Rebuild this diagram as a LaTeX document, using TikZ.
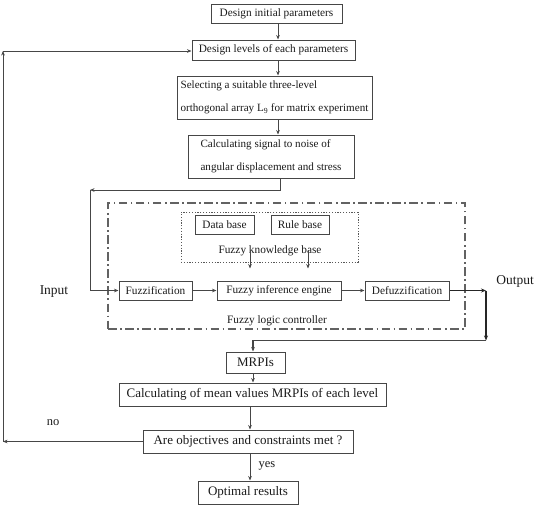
\documentclass[tikz,border=0pt]{standalone}
\usepackage{fontspec}
\setmainfont{Liberation Serif}
\usetikzlibrary{arrows.meta,calc}
\definecolor{linegray}{HTML}{464646}
\definecolor{textdark}{HTML}{1A1A1A}
\begin{document}
\begin{tikzpicture}[x=1pt,y=-1pt,
  box/.style={draw=linegray,line width=1pt,inner sep=0pt,text=textdark,
    font=\fontsize{11.3}{13}\selectfont},
  twoline/.style={box,align=left,font=\fontsize{11.1}{22.5}\selectfont},
  bigbox/.style={box,font=\fontsize{13}{15}\selectfont},
  lbl/.style={text=textdark,inner sep=0pt},
  arr/.style={draw=linegray,line width=1pt,-{Stealth[length=4.5pt,width=3.6pt]}},
  arrthick/.style={draw=black!85,line width=1.4pt,-{Stealth[length=5pt,width=4pt]}},
  dashdotbox/.style={draw=linegray!85,line width=1.5pt,
    dash pattern=on 8.5pt off 3.5pt on 1.6pt off 3.5pt},
  dottedbox/.style={draw=linegray!90,line width=0.9pt,dash pattern=on 1.2pt off 1.6pt}]
\useasboundingbox (0,0) rectangle (538,509);

% main flow, top part
\node[box,minimum width=131pt,minimum height=19pt] (n1) at (276.5,13.5) {Design initial parameters};
\node[box,minimum width=163pt,minimum height=20pt] (n2) at (273.5,50) {Design levels of each parameters};
\node[twoline,minimum width=195pt,minimum height=43pt] (n3) at (274.5,97.5)
  {Selecting a suitable three-level\\orthogonal array L\textsubscript{9} for matrix experiment};
\node[twoline,minimum width=166pt,minimum height=43pt] (n4) at (271,156.5)
  {Calculating signal to noise of\\angular displacement and stress};

% fuzzy logic controller
\node[dashdotbox,minimum width=357pt,minimum height=126pt,inner sep=0pt] (flc) at (286.5,266) {};
\node[dottedbox,minimum width=177pt,minimum height=50pt,inner sep=0pt] (kb) at (269.5,237) {};
\node[box,minimum width=59pt,minimum height=19pt] (db) at (224.5,224.5) {Data base};
\node[box,minimum width=58pt,minimum height=19pt] (rb) at (300,224.5) {Rule base};
\node[lbl,font=\fontsize{11.3}{13}\selectfont] (kbl) at (270,251) {Fuzzy knowledge base};
\node[box,minimum width=73pt,minimum height=19pt] (fz) at (155.5,290.5) {Fuzzification};
\node[box,minimum width=124pt,minimum height=19pt] (fie) at (279,290.5) {Fuzzy inference engine};
\node[box,minimum width=84pt,minimum height=19pt] (dfz) at (407,290.5) {Defuzzification};
\node[lbl,font=\fontsize{11.3}{13}\selectfont] (flcl) at (277,321) {Fuzzy logic controller};

% main flow, bottom part
\node[bigbox,minimum width=59pt,minimum height=21pt] (mrpi) at (255.5,362.5) {MRPIs};
\node[bigbox,minimum width=267pt,minimum height=23pt] (cm) at (252.5,394.5) {Calculating of mean values MRPIs of each level};
\node[bigbox,minimum width=210pt,minimum height=23pt] (ao) at (248,441.5) {Are objectives and constraints met ?};
\node[bigbox,minimum width=100pt,minimum height=23pt] (opt) at (248,492.5) {Optimal results};

% side labels
\node[lbl,font=\fontsize{13.5}{15}\selectfont] (inl) at (54,292) {Input};
\node[lbl,font=\fontsize{13.5}{15}\selectfont] (outl) at (515,281) {Output};
\node[lbl,font=\fontsize{12.5}{14}\selectfont] (nol) at (53,423) {no};
\node[lbl,font=\fontsize{12.5}{14}\selectfont] (yesl) at (267,466) {yes};

% corner points of the routed connectors
\coordinate (ic) at (90,190);
\coordinate (oc1) at (486,290.5);
\coordinate (oc2) at (486,340.5);
\coordinate (lc1) at (3,441.5);
\coordinate (lc2) at (3,51);

% vertical flow arrows
\draw[arr] ([xshift=1.5pt]n1.south) -- ([xshift=1.5pt]n1.south |- n2.north);
\draw[arr] ([xshift=4.5pt]n2.south) -- ([xshift=4.5pt]n2.south |- n3.north);
\draw[arr] ([xshift=3.5pt]n3.south) -- ([xshift=3.5pt]n3.south |- n4.north);

% input to fuzzification
\draw[arr] ([xshift=9pt]n4.south) |- (ic);
\draw[arr] (ic) |- (fz.west);

% inside the controller
\draw[arr] (fz.east) -- (fie.west);
\draw[arr] (fie.east) -- (dfz.west);
\draw[arr] ([xshift=-19.5pt,yshift=12pt]kb.south) -- ([xshift=-19.5pt,yshift=12pt]kb.south |- fie.north);
\draw[arr] ([xshift=38.5pt,yshift=12pt]kb.south) -- ([xshift=38.5pt,yshift=12pt]kb.south |- fie.north);

% output back to the flow
\draw[arrthick] (dfz.east) -- (oc1);
\draw[arrthick] (oc1) -- (oc2);
\draw[arr,line width=1.1pt] (oc2) -| ([xshift=-2.5pt]mrpi.north);

% bottom flow
\draw[arr] ([xshift=-2.5pt]mrpi.south) -- ([xshift=-2.5pt]mrpi.south |- cm.north);
\draw[arr] ([xshift=-2.5pt]cm.south) -- ([xshift=-2.5pt]cm.south |- ao.north);
\draw[arr] ([xshift=2pt]ao.south) -- ([xshift=2pt]ao.south |- opt.north);

% feedback loop
\draw[arr] (ao.west) -- (lc1);
\draw[arr] (lc1) -- (lc2);
\draw[arr] (lc2) -- (lc2 -| n2.west);
\end{tikzpicture}
\end{document}
